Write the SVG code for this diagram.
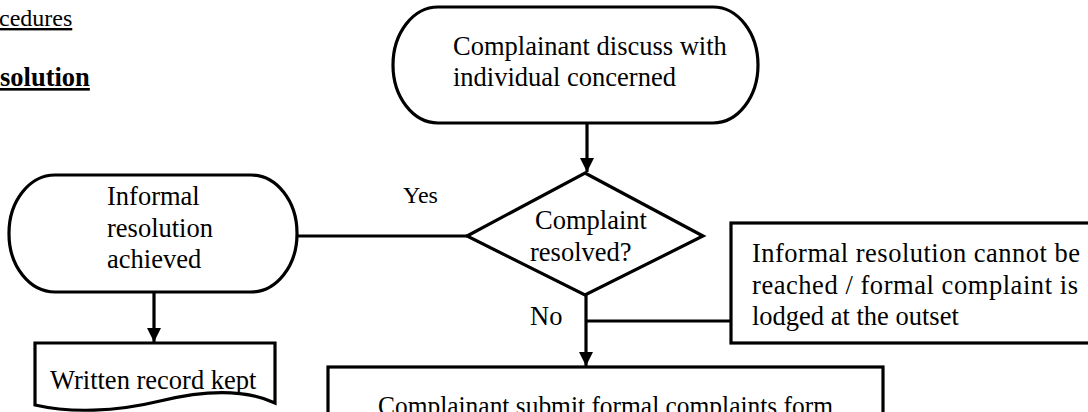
<svg xmlns="http://www.w3.org/2000/svg" width="1088" height="412" viewBox="0 0 1088 412">
<style>
  text { font-family: "Liberation Serif", "Times New Roman", serif; font-size: 26.5px; fill: #000; }
  .shape { fill: #fff; stroke: #000; stroke-width: 3.2; }
  .conn { fill: none; stroke: #000; stroke-width: 3.2; }
  .ul { text-decoration: underline; }
  .b { font-weight: bold; }
</style>
<defs>
  <marker id="arr" markerUnits="userSpaceOnUse" markerWidth="14" markerHeight="14" viewBox="0 0 14 14" refX="14" refY="7" orient="auto">
    <path d="M0,0 L14,7 L0,14 Z" fill="#000"/>
  </marker>
</defs>
<rect width="1088" height="412" fill="#fff"/>

<g id="headings">
  <text x="-1" y="26" class="ul" style="font-size:24px">cedures</text>
  <text x="0" y="86" class="ul b">solution</text>
</g>

<g id="connectors">
  <line class="conn" x1="587" y1="123" x2="587" y2="172" marker-end="url(#arr)"/>
  <line class="conn" x1="297" y1="236" x2="467" y2="236"/>
  <line class="conn" x1="154" y1="292" x2="154" y2="342" marker-end="url(#arr)"/>
  <line class="conn" x1="586" y1="295" x2="586" y2="366" marker-end="url(#arr)"/>
  <line class="conn" x1="586" y1="321" x2="731" y2="321"/>
  <text x="403" y="203" style="font-size:24px">Yes</text>
  <text x="530" y="325">No</text>
</g>

<g id="start">
  <rect class="shape" x="393" y="7" width="365" height="116" rx="45" ry="58"/>
  <text x="453" y="55">Complainant discuss with</text>
  <text x="453" y="86">individual concerned</text>
</g>

<g id="decision">
  <polygon class="shape" points="585,173 703,236 585,295 467,236"/>
  <text x="535" y="229">Complaint</text>
  <text x="530" y="261">resolved?</text>
</g>

<g id="informal">
  <rect class="shape" x="9" y="175" width="288" height="117" rx="46" ry="58"/>
  <text x="107" y="205">Informal</text>
  <text x="107" y="237">resolution</text>
  <text x="107" y="268">achieved</text>
</g>

<g id="record">
  <path class="shape" d="M35,343 H275 V403 C245,389 205,390 160,401 C115,412 70,413 35,405 Z"/>
  <text x="50" y="389">Written record kept</text>
</g>

<g id="cannot">
  <rect class="shape" x="731" y="223" width="400" height="120"/>
  <text x="752" y="262" textLength="328" lengthAdjust="spacing">Informal resolution cannot be</text>
  <text x="752" y="294" textLength="326" lengthAdjust="spacing">reached / formal complaint is</text>
  <text x="752" y="325">lodged at the outset</text>
</g>

<g id="formal">
  <rect class="shape" x="328" y="367" width="555" height="80"/>
  <text x="378" y="415" textLength="455" lengthAdjust="spacingAndGlyphs">Complainant submit formal complaints form</text>
</g>
</svg>
